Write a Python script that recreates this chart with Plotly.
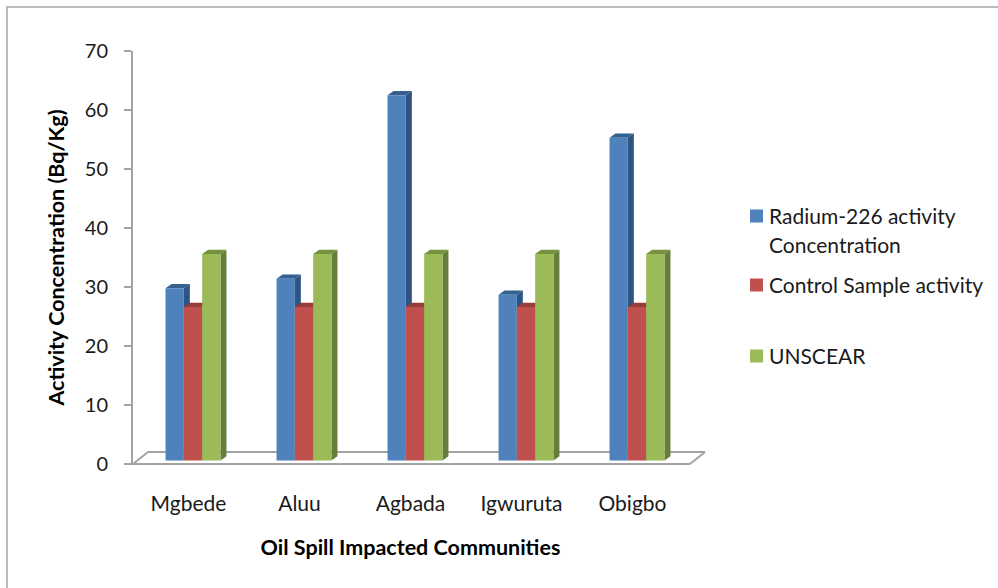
import plotly.graph_objects as go

categories = ["Mgbede", "Aluu", "Agbada", "Igwuruta", "Obigbo"]
radium = [29.2, 30.8, 61.9, 28.1, 54.7]
control = [26, 26, 26, 26, 26]
unscear = [35, 35, 35, 35, 35]
series_names = ["Radium-226 activity", "Control Sample activity", "UNSCEAR"]
legend_wrap = "Concentration"
y_ticks = [0, 10, 20, 30, 40, 50, 60, 70]

W, H = 998, 588
L, R, T, B = 133, 688, 51, 464
FONT = "Lato"
GREY = "#A3A3A3"
front = ["#4F81BD", "#C0504D", "#9BBB59"]
side = ["#2E5484", "#8E3A38", "#677D3B"]
top_face = ["#34608F", "#963C3A", "#76923C"]

unit_x = (R - L) / 5          # pixels per category
unit_y = (B - T) / 70         # pixels per value unit
bar_w = 18.3 / unit_x
shift = 4.5 / unit_x
dx = 6 / unit_x
dy = 4.2 / unit_y
base = 0.6                    # bars stand slightly in front of the axis floor


def px(x):
    return (x - L) / (R - L)


def py(y):
    return (B - y) / (B - T)


fig = go.Figure()
shapes = []
for k, (values, name) in enumerate(zip([radium, control, unscear], series_names)):
    xs = [i + shift + (k - 1) * bar_w for i in range(len(categories))]
    fig.add_trace(go.Bar(
        x=xs, y=values, base=base, width=bar_w, name=name,
        marker=dict(color=front[k], line=dict(width=0)), showlegend=False,
    ))
    for x, v in zip(xs, values):
        x0, x1 = x - bar_w / 2, x + bar_w / 2
        t = base + v
        shapes.append(dict(
            type="path", xref="x", yref="y", layer="below", line=dict(width=0),
            fillcolor=side[k],
            path=f"M{x1},{base} L{x1+dx},{base+dy} L{x1+dx},{t+dy} L{x1},{t} Z"))
        shapes.append(dict(
            type="path", xref="x", yref="y", layer="below", line=dict(width=0),
            fillcolor=top_face[k],
            path=f"M{x0},{t} L{x0+dx},{t+dy} L{x1+dx},{t+dy} L{x1},{t} Z"))


def pline(x0, y0, x1, y1, color=GREY, width=2):
    return dict(type="line", xref="paper", yref="paper", layer="below",
                x0=px(x0), y0=py(y0), x1=px(x1), y1=py(y1),
                line=dict(color=color, width=width))


decor = [
    pline(133, 464, 148, 452), pline(148, 452, 705, 452),
    pline(705, 452, 690, 464), pline(126, 464, 690, 464),
    dict(type="rect", xref="paper", yref="paper", layer="below",
         x0=px(7), y0=py(7), x1=px(1010), y1=py(600),
         line=dict(color="#A6A6A6", width=1.5), fillcolor="rgba(0,0,0,0)"),
]
swatches = [216, 285, 356]
legend_text = []
for k, (name, yy) in enumerate(zip(series_names, swatches)):
    decor.append(dict(type="rect", xref="paper", yref="paper",
                      x0=px(750), x1=px(763), y0=py(yy - 6.5), y1=py(yy + 6.5),
                      line=dict(width=0), fillcolor=front[k]))
    legend_text.append((name, yy))
legend_text.append((legend_wrap, 245))

annotations = [
    dict(text=t, xref="paper", yref="paper", x=px(769), y=py(yy - 1), showarrow=False,
         xanchor="left", yanchor="middle", xshift=-2,
         font=dict(family=FONT, size=21, color="#1a1a1a"))
    for t, yy in legend_text
]

fig.update_layout(
    width=W, height=H, autosize=False,
    margin=dict(l=L, r=W - R, t=T, b=H - B, pad=0),
    paper_bgcolor="white", plot_bgcolor="rgba(0,0,0,0)",
    barmode="overlay", showlegend=False,
    font=dict(family=FONT, color="#1a1a1a"),
    shapes=shapes + decor, annotations=annotations,
    xaxis=dict(
        range=[-0.5, 4.5], tickmode="array", tickvals=list(range(len(categories))),
        ticktext=categories, ticks="outside", ticklen=21, tickcolor="rgba(0,0,0,0)",
        showgrid=False, zeroline=False, showline=False,
        tickfont=dict(family=FONT, size=21),
        title=dict(text="<b>Oil Spill Impacted Communities</b>", standoff=25,
                   font=dict(family=FONT, size=21.5, color="black")),
    ),
    yaxis=dict(
        range=[0, 70], tickmode="array", tickvals=y_ticks, ticks="outside", ticklen=7,
        tickcolor=GREY, tickwidth=2, showgrid=False, zeroline=False,
        showline=True, linecolor=GREY, linewidth=2, ticklabelstandoff=12,
        tickfont=dict(family=FONT, size=20),
        title=dict(text="<b>Activity Concentration (Bq/Kg)</b>", standoff=14,
                   font=dict(family=FONT, size=21.5, color="black")),
    ),
)
fig.write_html("out.html", config=dict(displayModeBar=False),
               post_script="document.body.style.margin='0';document.documentElement.style.overflow='hidden';")
